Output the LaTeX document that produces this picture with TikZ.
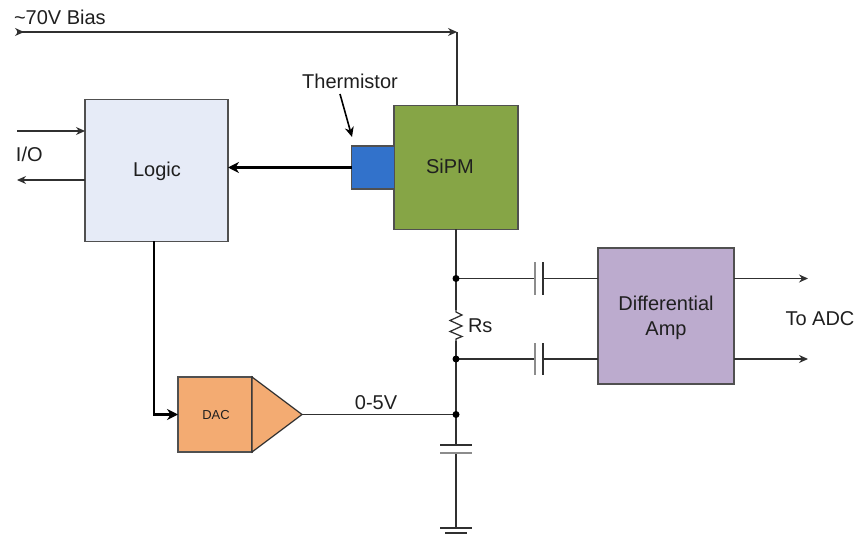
\documentclass[tikz,border=0pt]{standalone}
\usepackage{fontspec}
\setmainfont{Liberation Sans}
\usetikzlibrary{arrows.meta,calc}
\definecolor{wire}{HTML}{303030}
\definecolor{edge}{HTML}{505050}
\definecolor{logicfill}{HTML}{E6EBF7}
\definecolor{sipmfill}{HTML}{86A546}
\definecolor{thermfill}{HTML}{3272CB}
\definecolor{ampfill}{HTML}{BCABCE}
\definecolor{dacfill}{HTML}{F3AB72}
\tikzset{
  blockbox/.style={draw=edge,line width=1.2pt,inner sep=0pt,outer sep=0pt},
  label20/.style={inner sep=0pt,outer sep=0pt,anchor=base,font=\fontsize{20}{20}\selectfont,text=black!88},
  wireline/.style={draw=wire,line width=1.25pt},
  thick wire/.style={draw=black,line width=2.2pt},
  tip/.style={-{Stealth[length=9pt,width=8pt]}},
  bigtip/.style={-{Stealth[length=11pt,width=11pt]}},
  junction/.style={circle,fill=black,inner sep=0pt,minimum size=7pt},
  plate/.style={draw=wire,line width=1.25pt},
  greyplate/.style={draw=black!45,line width=1.25pt},
}
\begin{document}
\begin{tikzpicture}[x=1pt,y=-1pt]
\useasboundingbox (0,0) rectangle (859,537);
% blocks
\node[blockbox,fill=logicfill,minimum width=143pt,minimum height=142pt] (logic) at (156.5,170.5) {};
\node[blockbox,fill=sipmfill,minimum width=124pt,minimum height=124pt] (sipm) at (456,167.5) {};
\node[blockbox,fill=thermfill,minimum width=43pt,minimum height=43pt] (therm) at (373,167.5) {};
\node[blockbox,fill=ampfill,minimum width=136pt,minimum height=136pt] (amp) at (666,316) {};
\node[blockbox,fill=dacfill,minimum width=74pt,minimum height=75pt] (dac) at (215,414.5) {};
% triangle of the DAC
\coordinate (tipamp) at (302,414.5);
\draw[draw=wire,line width=1.2pt,fill=dacfill] (dac.north east) -- (tipamp) -- (dac.south east) -- cycle;
% coordinates
\coordinate (biasL) at (17,32);
\coordinate (biasR) at (457,32);
\coordinate (ioinL) at (17,131);
\coordinate (ioin) at (logic.west |- ioinL);
\coordinate (iooutL) at (17,180);
\coordinate (ioout) at (logic.west |- iooutL);
\coordinate (j1) at (456,278.5);
\coordinate (j2) at (456,359);
\coordinate (j3) at (456,414.5);
\coordinate (resT) at (456,310);
\coordinate (resB) at (456,341);
\coordinate (capT) at (456,445);
\coordinate (capB) at (456,453);
\coordinate (gnd) at (456,528);
\coordinate (c1L) at (535,278.5);
\coordinate (c1R) at (543,278.5);
\coordinate (c2L) at (535,359);
\coordinate (c2R) at (543,359);
\coordinate (out1) at (808,278.5);
\coordinate (out2) at (808,359);
\coordinate (logicB) at (154,241.5);
\coordinate (corner) at (154,414.5);
\coordinate (thermA) at (340,94);
\coordinate (thermB) at (352,137);
% bias
\draw[wireline,tip] (biasL) -- (biasR);
\draw[wireline,tip] (biasL) -- ++(7,0);
\draw[wireline] (biasR) -- (sipm.north -| biasR);
% I/O
\draw[wireline,tip] (ioinL) -- (ioin);
\draw[wireline,tip] (ioout) -- (iooutL);
% thick
\draw[thick wire,bigtip] (therm.west) -- (logic.east |- therm.west);
\draw[thick wire,line width=1.6pt,-{Stealth[length=10pt,width=9pt]}] (thermA) -- (thermB);
\draw[thick wire,bigtip] (logicB) -- (corner) -- (dac.west);
% main vertical
\draw[wireline] (sipm.south -| j1) -- (j1) -- (resT);
\draw[wireline] (resT) -- ++(0,2) -- ++(6,3) -- ++(-12,5.5) -- ++(12,5.5) -- ++(-12,5.5) -- ++(12,5) -- ++(-6,2.5) -- (resB);
\draw[wireline] (resB) -- (j2) -- (j3) -- (capT);
\draw[wireline] (capB) -- (gnd);
\draw[plate] ($(capT)+(-16,0)$) -- ($(capT)+(16,0)$);
\draw[greyplate] ($(capB)+(-16,0)$) -- ($(capB)+(16,0)$);
\draw[plate] ($(gnd)+(-16,0)$) -- ($(gnd)+(16,0)$);
\draw[plate] ($(gnd)+(-11,5)$) -- ($(gnd)+(11,5)$);
\draw[wireline] (tipamp) -- (j3);
% coupling
\draw[wireline] (j1) -- (c1L);
\draw[wireline] (c1R) -- (amp.west |- c1R);
\draw[wireline] (j2) -- (c2L);
\draw[wireline] (c2R) -- (amp.west |- c2R);
\draw[greyplate] ($(c1L)+(0,-16)$) -- ($(c1L)+(0,16)$);
\draw[plate] ($(c1R)+(0,-16)$) -- ($(c1R)+(0,16)$);
\draw[greyplate] ($(c2L)+(0,-16)$) -- ($(c2L)+(0,16)$);
\draw[plate] ($(c2R)+(0,-16)$) -- ($(c2R)+(0,16)$);
\draw[wireline,tip] (amp.east |- out1) -- (out1);
\draw[wireline,tip] (amp.east |- out2) -- (out2);
% junctions
\node[junction] (dot1) at (j1) {};
\node[junction] (dot2) at (j2) {};
\node[junction] (dot3) at (j3) {};
% labels
\node[label20,anchor=base west] (tbias) at (14,25) {\textasciitilde 70V Bias};
\node[label20] (tthermistor) at (350,89) {Thermistor};
\node[label20] (tlogic) at (157,177) {Logic};
\node[label20] (tsipm) at (450,174) {SiPM};
\node[label20,anchor=base west] (tio) at (16,162) {I/O};
\node[label20,font=\fontsize{13}{13}\selectfont] (tdac) at (216,419) {DAC};
\node[label20] (t05) at (376,409) {0-5V};
\node[label20,anchor=base west] (trs) at (468,332) {Rs};
\node[label20] (tdiff) at (666,310) {Differential};
\node[label20] (tamp) at (666,335) {Amp};
\node[label20] (tadc) at (820,325) {To ADC};
\end{tikzpicture}
\end{document}
